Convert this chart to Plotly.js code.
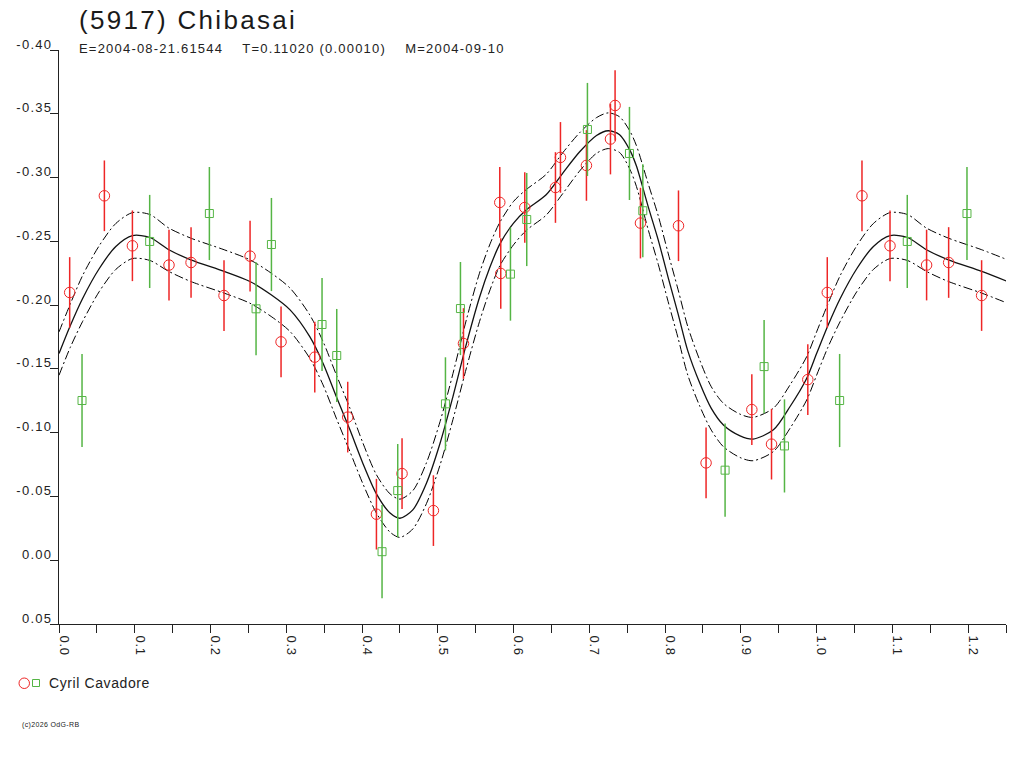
<!DOCTYPE html>
<html>
<head>
<meta charset="utf-8">
<script src="https://cdn.plot.ly/plotly-3.0.1.min.js"></script>
<style>html,body{margin:0;padding:0;background:#fff;}#chart{width:1024px;height:768px;}</style>
</head>
<body>
<div id="chart"></div>
<script>
// ---- data ----
const redPhase = [0.0141, 0.0599, 0.0969, 0.1452, 0.1743, 0.2178, 0.2522, 0.2931, 0.3376, 0.3811, 0.419, 0.4528, 0.4942, 0.5339, 0.5818, 0.5831, 0.6148, 0.6553, 0.6619, 0.6962, 0.7279, 0.734, 0.7675, 0.8177, 0.8541, 0.9145, 0.9405, 0.9884];
const redMag = [-0.2099, -0.2857, -0.2465, -0.2314, -0.2334, -0.2075, -0.2384, -0.1712, -0.1592, -0.1122, -0.0361, -0.0679, -0.0389, -0.1699, -0.2805, -0.2248, -0.2765, -0.2922, -0.3158, -0.3095, -0.3302, -0.3565, -0.2643, -0.2622, -0.0763, -0.1181, -0.091, -0.1416];
const redErr = 0.0277;

const greenPhase = [0.0304, 0.1197, 0.1985, 0.2601, 0.2804, 0.3472, 0.3666, 0.4264, 0.4471, 0.5101, 0.5299, 0.5959, 0.6174, 0.6975, 0.753, 0.7706, 0.8792, 0.9307, 0.9576];
const greenMag = [-0.1252, -0.2499, -0.2718, -0.1971, -0.2475, -0.1848, -0.1605, -0.0067, -0.0546, -0.1226, -0.1973, -0.2243, -0.2671, -0.3377, -0.3189, -0.274, -0.0706, -0.1518, -0.0896];
const greenErr = 0.0365;

const fitPhase = [0, 0.015, 0.031, 0.053, 0.075, 0.097, 0.12, 0.145, 0.174, 0.218, 0.252, 0.28, 0.305, 0.331, 0.3485, 0.366, 0.384, 0.401, 0.419, 0.437, 0.45, 0.467, 0.485, 0.503, 0.52, 0.538, 0.555, 0.569, 0.582, 0.6, 0.617, 0.643, 0.665, 0.687, 0.7095, 0.725, 0.74, 0.7535, 0.7622, 0.7776, 0.791, 0.804, 0.817, 0.83, 0.846, 0.861, 0.877, 0.899, 0.916, 0.943, 0.965, 0.987, 1.0, 1.015, 1.031, 1.053, 1.075, 1.097, 1.12, 1.145, 1.174, 1.218, 1.252];
const fitMid = [-0.162, -0.184, -0.205, -0.2285, -0.246, -0.2545, -0.253, -0.2434, -0.2355, -0.2264, -0.2185, -0.2081, -0.1963, -0.1753, -0.1545, -0.1284, -0.1022, -0.0761, -0.052, -0.037, -0.0329, -0.0395, -0.0604, -0.0917, -0.1283, -0.1702, -0.206, -0.23, -0.248, -0.2643, -0.2747, -0.2865, -0.3035, -0.32, -0.333, -0.3367, -0.3336, -0.3215, -0.309, -0.2774, -0.251, -0.2218, -0.1935, -0.1641, -0.1385, -0.119, -0.106, -0.0975, -0.095, -0.1022, -0.1205, -0.1427, -0.162, -0.184, -0.205, -0.2285, -0.246, -0.2545, -0.253, -0.2434, -0.2355, -0.2264, -0.2185];
const fitUpper = [-0.179, -0.201, -0.223, -0.2465, -0.264, -0.2725, -0.271, -0.2604, -0.2525, -0.2434, -0.2355, -0.2251, -0.2133, -0.1923, -0.1715, -0.1454, -0.1192, -0.0921, -0.067, -0.052, -0.0479, -0.0545, -0.0764, -0.1087, -0.1463, -0.1892, -0.225, -0.248, -0.265, -0.2813, -0.2907, -0.3025, -0.3195, -0.335, -0.347, -0.3507, -0.3476, -0.3365, -0.325, -0.2954, -0.27, -0.2408, -0.2125, -0.1831, -0.1565, -0.136, -0.123, -0.1145, -0.112, -0.1192, -0.1375, -0.1597, -0.179, -0.201, -0.223, -0.2465, -0.264, -0.2725, -0.271, -0.2604, -0.2525, -0.2434, -0.2355];
const fitLower = [-0.145, -0.167, -0.187, -0.2105, -0.228, -0.2365, -0.235, -0.2264, -0.2185, -0.2094, -0.2015, -0.1911, -0.1793, -0.1583, -0.1375, -0.1114, -0.0852, -0.0601, -0.037, -0.022, -0.0179, -0.0245, -0.0444, -0.0747, -0.1103, -0.1512, -0.187, -0.212, -0.231, -0.2473, -0.2587, -0.2705, -0.2875, -0.305, -0.319, -0.3227, -0.3196, -0.3065, -0.293, -0.2594, -0.232, -0.2028, -0.1745, -0.1451, -0.1205, -0.102, -0.089, -0.0805, -0.078, -0.0852, -0.1035, -0.1257, -0.145, -0.167, -0.187, -0.2105, -0.228, -0.2365, -0.235, -0.2264, -0.2185, -0.2094, -0.2015];

const yTickVals = [-0.40, -0.35, -0.30, -0.25, -0.20, -0.15, -0.10, -0.05, 0.00, 0.05];
const yTickText = ["-0.40", "-0.35", "-0.30", "-0.25", "-0.20", "-0.15", "-0.10", "-0.05", "0.00", "0.05"];
const xTickVals = [0, 0.1, 0.2, 0.3, 0.4, 0.5, 0.6, 0.7, 0.8, 0.9, 1.0, 1.1, 1.2];
const xTickText = ["0.0", "0.1", "0.2", "0.3", "0.4", "0.5", "0.6", "0.7", "0.8", "0.9", "1.0", "1.1", "1.2"];

const titleText = "(5917) Chibasai";
const subtitleText = "E=2004-08-21.61544&nbsp;&nbsp;&nbsp;&nbsp;T=0.11020 (0.00010)&nbsp;&nbsp;&nbsp;&nbsp;M=2004-09-10";
const observer = "Cyril Cavadore";
const copyright = "(c)2026 OdG-RB";

// phase folding: repeat points of phase 0..0.25 after phase 1
const XMAX = 1.25;
function extend(ph, mag) {
  const x = ph.slice(), y = mag.slice();
  ph.forEach((p, i) => { if (p + 1 <= XMAX) { x.push(p + 1); y.push(mag[i]); } });
  return {x, y};
}
const red = extend(redPhase, redMag);
const green = extend(greenPhase, greenMag);

const RED = '#ee2626';
const GREEN = '#55b545';
const FONT = 'Liberation Sans, Arial, sans-serif';

const traces = [
  {x: fitPhase, y: fitUpper, mode: 'lines', line: {color: '#000', width: 1, dash: '9px,3px,2px,3px', shape: 'spline', smoothing: 0.8}, showlegend: false, hoverinfo: 'skip'},
  {x: fitPhase, y: fitLower, mode: 'lines', line: {color: '#000', width: 1, dash: '9px,3px,2px,3px', shape: 'spline', smoothing: 0.8}, showlegend: false, hoverinfo: 'skip'},
  {x: fitPhase, y: fitMid, mode: 'lines', line: {color: '#111', width: 1.3, shape: 'spline', smoothing: 0.8}, showlegend: false, hoverinfo: 'skip'},
  {x: red.x, y: red.y, mode: 'markers', type: 'scatter',
   marker: {symbol: 'circle-open', size: 10.5, color: RED, line: {width: 1, color: RED}},
   error_y: {type: 'constant', value: redErr, color: RED, thickness: 1.5, width: 0},
   showlegend: false},
  {x: green.x, y: green.y, mode: 'markers', type: 'scatter',
   marker: {symbol: 'square-open', size: 8, color: GREEN, line: {width: 1, color: GREEN}},
   error_y: {type: 'constant', value: greenErr, color: GREEN, thickness: 1.5, width: 0},
   showlegend: false}
];

// pixel -> paper helpers (plot area: x 59..1006, y 50..624)
const L = 59, R = 1006, T = 50, B = 624;
const px = v => (v - L) / (R - L);
const py = v => (B - v) / (B - T);

const layout = {
  width: 1024, height: 768,
  margin: {l: L, r: 1024 - R, t: T, b: 768 - B, pad: 0},
  paper_bgcolor: '#fff', plot_bgcolor: '#fff',
  font: {family: FONT, size: 13, color: '#222'},
  showlegend: false,
  xaxis: {
    range: [0, XMAX], showgrid: false, zeroline: false,
    showline: true, linecolor: '#222', linewidth: 1,
    ticks: 'outside', ticklen: 8, tickwidth: 1, tickcolor: '#222',
    tickmode: 'array', tickvals: xTickVals, ticktext: xTickText,
    tickangle: 90, ticklabelshift: 5, ticklabelstandoff: 0,
    minor: {dtick: 0.05, tick0: 0, ticks: 'outside', ticklen: 8, tickwidth: 1, tickcolor: '#222', showgrid: false},
    tickfont: {family: FONT, size: 13, color: '#222'}
  },
  yaxis: {
    range: [0.05, -0.40], showgrid: false, zeroline: false,
    showline: true, linecolor: '#222', linewidth: 1,
    ticks: 'outside', ticklen: 8, tickwidth: 1, tickcolor: '#222',
    tickmode: 'array', tickvals: yTickVals, ticktext: yTickText,
    ticklabelshift: 6, ticklabelstandoff: -5,
    tickfont: {family: FONT, size: 13, color: '#222'}
  },
  annotations: [
    {text: titleText, xref: 'paper', yref: 'paper', x: px(77), y: py(20), xanchor: 'left', yanchor: 'middle', showarrow: false, font: {family: FONT, size: 26, color: '#1a1a1a'}},
    {text: subtitleText, xref: 'paper', yref: 'paper', x: px(77), y: py(48), xanchor: 'left', yanchor: 'middle', showarrow: false, font: {family: FONT, size: 13, color: '#222'}},
    {text: observer, xref: 'paper', yref: 'paper', x: px(47), y: py(683), xanchor: 'left', yanchor: 'middle', showarrow: false, font: {family: FONT, size: 14, color: '#222'}},
    {text: copyright, xref: 'paper', yref: 'paper', x: px(20), y: py(725), xanchor: 'left', yanchor: 'middle', showarrow: false, font: {family: FONT, size: 7, color: '#222'}}
  ],
  shapes: [
    {type: 'circle', xref: 'paper', yref: 'paper', x0: px(19), x1: px(29.5), y0: py(688.5), y1: py(678), line: {color: RED, width: 1}},
    {type: 'rect', xref: 'paper', yref: 'paper', x0: px(32.5), x1: px(39.5), y0: py(686.5), y1: py(679.5), line: {color: GREEN, width: 1}}
  ]
};

// letter spacing of the reference's text rendering; keep each annotation's left edge in place
const annSpacing = ['2.3px', '1.2px', '0.6px', '0.35px'];
Plotly.newPlot('chart', traces, layout, {staticPlot: true, displayModeBar: false}).then(gd => {
  gd.querySelectorAll('.annotation-text').forEach((t, i) => {
    const before = t.getBBox();
    t.style.letterSpacing = annSpacing[i] || '0px';
    const after = t.getBBox();
    const dx = before.x - after.x;
    t.setAttribute('x', (parseFloat(t.getAttribute('x')) || 0) + dx);
  });
  gd.querySelectorAll('.ytick text').forEach(t => { t.style.letterSpacing = '1.3px'; });
  gd.querySelectorAll('.xtick text').forEach(t => { t.style.letterSpacing = '0.6px'; });
});
</script>
</body>
</html>
